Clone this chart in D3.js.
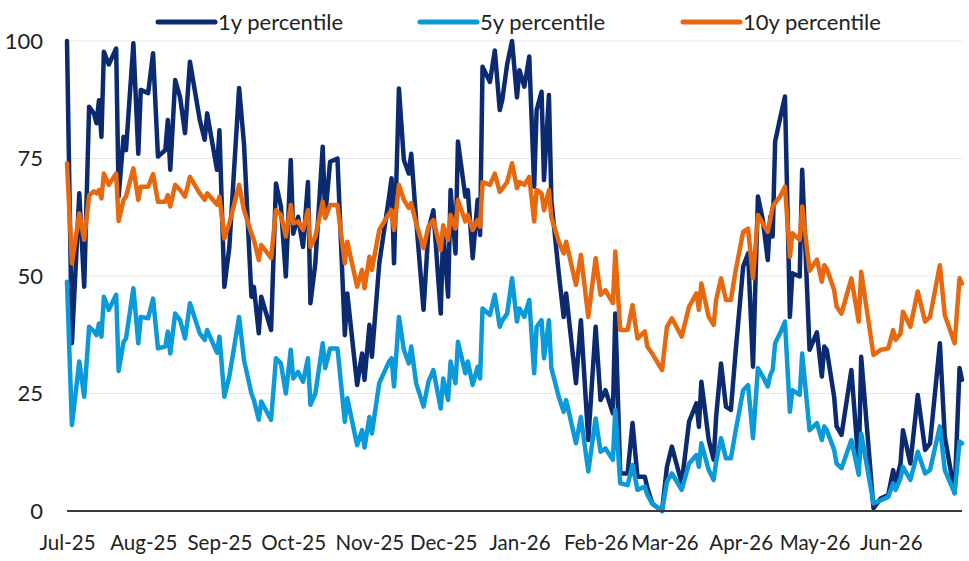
<!DOCTYPE html>
<html>
<head>
<meta charset="utf-8">
<script src="https://cdn.jsdelivr.net/npm/d3@7"></script>
<style>
  html, body { margin: 0; padding: 0; background: #ffffff; }
  svg { display: block; }
  text { font-family: Lato, "Open Sans", sans-serif; fill: #222; }
</style>
</head>
<body>
<svg id="chart" width="969" height="561"></svg>
<script>
// ---- data ----
const dates = [
  "2025-07-01","2025-07-03","2025-07-06","2025-07-08","2025-07-10","2025-07-12","2025-07-13","2025-07-14","2025-07-15","2025-07-16",
  "2025-07-18","2025-07-21","2025-07-22","2025-07-24","2025-07-25","2025-07-28","2025-07-30","2025-07-31","2025-08-03","2025-08-05",
  "2025-08-07","2025-08-10","2025-08-11","2025-08-12","2025-08-14","2025-08-16","2025-08-18","2025-08-20","2025-08-24","2025-08-26",
  "2025-08-27","2025-08-31",
  "2025-09-01","2025-09-03","2025-09-05","2025-09-09","2025-09-11","2025-09-14","2025-09-15","2025-09-17","2025-09-18","2025-09-22",
  "2025-09-24","2025-09-26","2025-09-28","2025-09-30","2025-10-01","2025-10-03","2025-10-05","2025-10-07","2025-10-08","2025-10-10",
  "2025-10-13","2025-10-14","2025-10-16","2025-10-19","2025-10-22","2025-10-23","2025-10-27","2025-10-29","2025-10-30",
  "2025-11-01","2025-11-02","2025-11-05","2025-11-09","2025-11-10","2025-11-11","2025-11-13","2025-11-15","2025-11-17","2025-11-18",
  "2025-11-20","2025-11-23","2025-11-25","2025-11-27","2025-11-30","2025-12-01","2025-12-03","2025-12-04","2025-12-06","2025-12-07",
  "2025-12-10","2025-12-11","2025-12-13","2025-12-15","2025-12-16","2025-12-17","2025-12-20","2025-12-22","2025-12-24","2025-12-25",
  "2025-12-27","2025-12-29","2025-12-31",
  "2026-01-01","2026-01-03","2026-01-05","2026-01-07","2026-01-08","2026-01-10","2026-01-11","2026-01-13","2026-01-14","2026-01-17",
  "2026-01-19","2026-01-20","2026-01-24","2026-01-26","2026-01-29","2026-02-01","2026-02-03","2026-02-05","2026-02-08","2026-02-09",
  "2026-02-11","2026-02-14","2026-02-16","2026-02-18","2026-02-21","2026-02-22","2026-02-24","2026-02-28",
  "2026-03-02","2026-03-04","2026-03-08","2026-03-11","2026-03-14","2026-03-15","2026-03-16","2026-03-19","2026-03-21","2026-03-22",
  "2026-03-24","2026-03-26","2026-03-28","2026-03-30","2026-04-02","2026-04-04","2026-04-06","2026-04-08","2026-04-10","2026-04-12",
  "2026-04-13","2026-04-14","2026-04-15","2026-04-17","2026-04-19","2026-04-21","2026-04-22","2026-04-25","2026-04-26","2026-04-29",
  "2026-05-02","2026-05-04","2026-05-05","2026-05-06","2026-05-09","2026-05-10","2026-05-12","2026-05-16","2026-05-19","2026-05-20",
  "2026-05-25","2026-05-28","2026-05-31","2026-06-02","2026-06-03","2026-06-05","2026-06-06","2026-06-09","2026-06-12","2026-06-15",
  "2026-06-17","2026-06-21","2026-06-23","2026-06-27","2026-06-29","2026-06-30"
];

const pct1y = [
  100,35.7,67.6,47.7,86,84.5,82.5,87.4,79.6,97.7,
  95,98.4,66.9,79.6,76.8,99.5,76,89.6,88.9,97.4,
  75.4,76.8,83.2,72.6,91.7,88,80.4,95.6,83.2,79,
  84.6,72.6,
  81,47.7,56,90,78,45.6,47.7,37.8,45.6,38.5,
  69.7,64.8,49.9,74.7,59,62.6,56.2,70,44.2,52.7,
  77.5,62.6,74.3,75,37.4,46.3,26.8,33.5,27.9,
  39.6,32.8,52.7,66.9,70.8,52.7,89.9,74.7,71.8,76,
  61.9,42.8,59.8,64,42,59.8,45.6,68.3,54.8,78.6,
  66.9,68.3,53.8,66.2,58.7,94.5,91.3,98,85.3,87.4,
  95,100,88,
  93.8,90.3,96.7,69,85.3,89.2,70.4,88.5,66,50.6,
  41.3,46.3,27.2,40.6,15.1,39.2,23.6,25.7,20.8,42,
  8,8,18.7,7.3,7.3,5,1.6,0,
  9.4,13.7,5.9,19,22.9,17.9,27.5,15.1,10.9,20,
  31.4,22.2,21.5,34.3,52,54.8,30.7,66.9,61.9,53.4,
  62.6,58.4,78.6,83.5,88.2,41.3,50.6,49.9,72.6,34.3,
  38,28.6,35,34.3,24.3,18,16.2,30,9.4,32.8,
  0.6,2.7,3.4,8.7,5.9,10.1,17.2,10.1,24.7,13,
  14.4,35.7,15.8,3.8,30.4,27.9
];

const pct5y = [
  48.8,18.3,31.8,24.3,39.2,38.2,37.4,39.9,37.1,45.6,
  42.8,46,29.8,36,36.7,47.4,35.7,41.3,41,45.2,
  34.6,35,38.2,33.5,42,40.6,36.7,44.2,37.8,36.4,
  38.5,33.7,
  37.1,24.3,28.6,41.3,32.1,25,23.6,19.4,23.3,19.4,
  32.5,31.4,25,34.3,28.2,29.6,27.5,32.5,22.6,25,
  35.7,30.4,34.6,34.6,19,24,14,17.2,13.5,
  20,16.5,27.2,31.8,32.5,26.5,41.3,34.3,31.4,35,
  27.2,22.2,27.5,30,21.8,28.2,23.6,31.8,27.2,36,
  29.3,31.8,26.8,30.7,28.2,43.1,41.7,46,39.2,40.5,
  42,49.5,40.3,
  43.1,41.3,44.9,29.3,39.2,40.6,32.5,40.6,30.4,24.3,
  21.1,23.6,14.4,20,8.4,19.7,12.6,13.3,10.9,21.5,
  5.9,5.5,9.8,4.5,5.2,3.5,1.6,0,
  6.2,8,4.5,10.1,11.9,9.4,14.4,8.7,6.6,10.5,
  15.5,11.2,11.2,17.2,25.7,26.8,15.5,30.4,28.6,26.5,
  28.9,30,35.7,37.8,40.3,21.1,25.7,24.7,33.5,17.2,
  18.7,15.1,18,17.2,13,10.1,9.1,15.1,7.7,16.5,
  1.6,2.3,3,5.9,4.5,7,9.4,6.6,12.6,8,
  8.7,18,8.7,3.8,14.8,14.4
];

const pct10y = [
  74,52.7,63.3,57.7,67.2,68,67.6,68.3,66.5,71.8,
  69.4,71.8,61.7,66.2,66.9,72.9,66.2,69,69,71.7,
  65.8,65.8,67.2,64.8,69.4,68.3,66.9,71.1,67.6,66.2,
  67.6,65.2,
  66.9,58,61.2,69.4,64,59,57.7,53.4,56.6,53.8,
  64,63,58.4,65.1,61.2,61.6,59.8,64,56.2,58.4,
  65.8,62.3,65.1,65.1,52.7,57.3,47.7,51.3,47.4,
  54.1,51.3,59.8,63.3,64,59.8,69.4,66.2,64.5,65.5,
  61.2,55.9,60.5,61.9,55.5,60.8,57.7,63,60.1,66.2,
  61.6,63,59.8,61.9,60.5,70,69.4,71.8,67.9,68.5,
  70,74,68.7,
  70,69.4,71.1,61.6,68.3,67.6,64,68.3,62.5,57.3,
  54.8,57.3,48.1,54.5,41.3,53.8,46,47,44.2,55.2,
  38.5,38.5,43.8,36.7,38.2,35,33.5,30,
  39.2,41,37.1,43.5,46.3,42.8,48.4,41.3,39.6,44.9,
  49.5,44.9,44.9,51.3,59.4,60.1,49.5,63,61.2,59.4,
  62,64.8,65.5,66.9,69,54.1,59.1,57.7,64.8,51.1,
  53.5,48.8,52.3,51.6,47,43.5,42,49.5,40.3,50.9,
  33.2,34.3,34.6,38.5,36.4,37.8,42.4,39.2,46.7,40.3,
  41.3,52.3,41.7,35.7,49.5,48.4
];

const seriesNames = ["1y percentile", "5y percentile", "10y percentile"];
const seriesColors = ["#0b2a6f", "#0a9ad9", "#e8680f"];
const yTicks = [0, 25, 50, 75, 100];
const monthTicks = ["2025-07-01","2025-08-01","2025-09-01","2025-10-01","2025-11-01","2025-12-01",
                    "2026-01-01","2026-02-01","2026-03-01","2026-04-01","2026-05-01","2026-06-01"];
const domainStart = "2025-07-01", domainEnd = "2026-06-30";

// ---- chart ----
const W = 969, H = 561;
const margin = { top: 41, right: 7, bottom: 50, left: 67 };
const parse = d3.utcParse("%Y-%m-%d");
const svg = d3.select("#chart");
const FONT = 'Lato, "Open Sans", sans-serif';

const x = d3.scaleUtc()
  .domain([parse(domainStart), parse(domainEnd)])
  .range([margin.left, W - margin.right]);
const y = d3.scaleLinear().domain([0, 100]).range([H - margin.bottom, margin.top]);

// gridlines
svg.append("g")
  .selectAll("line")
  .data(yTicks.filter(t => t > 0))
  .join("line")
  .attr("x1", margin.left).attr("x2", W - margin.right)
  .attr("y1", d => y(d)).attr("y2", d => y(d))
  .attr("stroke", "#e9e9e9").attr("stroke-width", 1);

// y axis labels
const yAxis = d3.axisLeft(y).tickValues(yTicks).tickSize(0).tickPadding(24);
svg.append("g")
  .attr("transform", `translate(${margin.left},0)`)
  .call(yAxis)
  .call(g => g.select(".domain").remove())
  .call(g => g.selectAll("text")
      .style("font-family", FONT)
      .style("font-size", "22px").attr("fill", "#222"));

// x axis
const xAxis = d3.axisBottom(x)
  .tickValues(monthTicks.map(parse))
  .tickFormat(d3.utcFormat("%b-%y"))
  .tickSize(0).tickPadding(24);
svg.append("g")
  .attr("transform", `translate(0,${y(0)})`)
  .call(xAxis)
  .call(g => g.select(".domain").remove())
  .call(g => g.selectAll("text")
      .style("font-family", FONT)
      .style("font-size", "20.5px").attr("fill", "#222"));

// lines
const allSeries = [pct1y, pct5y, pct10y];
const line = d3.line()
  .x((d, i) => x(parse(dates[i])))
  .y(d => y(d));

svg.append("g")
  .selectAll("path")
  .data(allSeries)
  .join("path")
  .attr("fill", "none")
  .attr("stroke", (d, i) => seriesColors[i])
  .attr("stroke-width", 4.5)
  .attr("stroke-linejoin", "round")
  .attr("stroke-linecap", "round")
  .attr("d", d => line(d));

// baseline
svg.append("line")
  .attr("x1", margin.left).attr("x2", W - margin.right)
  .attr("y1", y(0)).attr("y2", y(0))
  .attr("stroke", "#3a3a3a").attr("stroke-width", 2);

// legend
const legendX = [158, 420, 683];
const lg = svg.append("g");
seriesNames.forEach((name, i) => {
  lg.append("line")
    .attr("x1", legendX[i]).attr("x2", legendX[i] + 57)
    .attr("y1", 22).attr("y2", 22)
    .attr("stroke", seriesColors[i]).attr("stroke-width", 5)
    .attr("stroke-linecap", "round");
  lg.append("text")
    .attr("x", legendX[i] + 60).attr("y", 30)
    .style("font-family", FONT)
    .style("font-size", "22px")
    .text(name);
});
</script>
</body>
</html>
